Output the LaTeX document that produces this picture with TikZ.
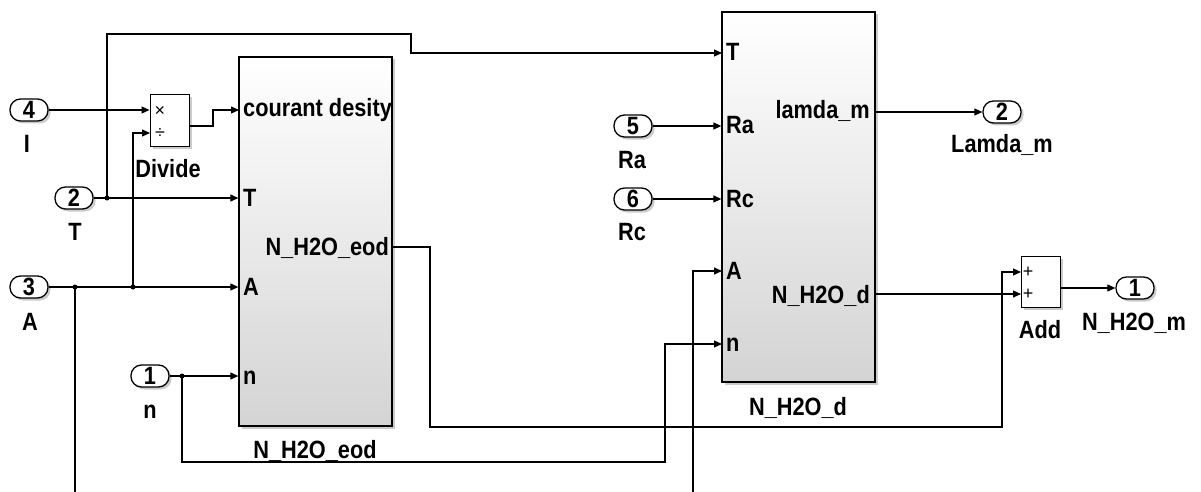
\documentclass[tikz,border=0pt]{standalone}
\usepackage{fontspec}
\setmainfont{Liberation Sans}
\newfontfamily\lblfont{Liberation Sans}[FakeStretch=0.87]
\usetikzlibrary{arrows.meta,shadows}
\begin{document}
\begin{tikzpicture}[x=1pt,y=-1pt,
  wire/.style={line width=1.1pt},
  arr/.style={wire,-{Triangle[length=8pt,width=7pt]}},
  shad/.style={drop shadow={shadow xshift=2.5pt,shadow yshift=-2.5pt,fill=black!45,opacity=.45}},
  port/.style={draw,line width=1.3pt,rounded corners=10.5pt,minimum width=38pt,minimum height=22pt,
    inner sep=0pt,fill=white,shad,font=\lblfont\bfseries\fontsize{25}{25}\selectfont},
  blk/.style={draw,line width=1.3pt,top color=white,bottom color=black!17,shad,minimum width=153pt},
  sblk/.style={draw,line width=1pt,fill=white,shad,minimum width=39pt,minimum height=51pt},
  lbl/.style={font=\lblfont\bfseries\fontsize{25}{27}\selectfont,inner sep=0pt},
  sym/.style={font=\fontsize{18}{18}\selectfont,inner sep=0pt},
  jdot/.style={circle,fill,inner sep=0pt,minimum size=5pt}]
\useasboundingbox (0,0) rectangle (1201,492);

% blocks
\node[blk,minimum height=369pt] (eod) at (315.5,241.5) {};
\node[blk,minimum height=370pt] (nd) at (798.5,197) {};
\node[sblk] (div) at (169.5,120.5) {};
\node[sblk] (add) at (1040.5,281.5) {};

% ports
\node[port] (p4) at (29,110) {4};
\node[port] (p2) at (74,198) {2};
\node[port] (p3) at (29,287) {3};
\node[port] (p1) at (150,376) {1};
\node[port] (p5) at (633,126) {5};
\node[port] (p6) at (633,199) {6};
\node[port] (o2) at (1002,112) {2};
\node[port] (o1) at (1135,288) {1};

% port labels
\node[lbl,anchor=base] (lI) at (27,152) {I};
\node[lbl,anchor=base] (lT) at (75,240) {T};
\node[lbl,anchor=base] (lA) at (30,330) {A};
\node[lbl,anchor=base] (ln) at (150,418) {n};
\node[lbl,anchor=base] (lRa) at (632,168) {Ra};
\node[lbl,anchor=base] (lRc) at (632,240) {Rc};
\node[lbl,anchor=base] (lLm) at (1002,152) {Lamda\_m};
\node[lbl,anchor=base] (lNm) at (1134,330) {N\_H2O\_m};
\node[lbl,anchor=base] (lDiv) at (168,177) {Divide};
\node[lbl,anchor=base] (lAdd) at (1040,338) {Add};
\node[lbl,anchor=base] (leod) at (315,458) {N\_H2O\_eod};
\node[lbl,anchor=base] (ld) at (798,415) {N\_H2O\_d};

% block inner labels
\node[lbl,anchor=base west] (eCD) at (243,117) {courant desity};
\node[lbl,anchor=base west] (eT) at (243,206) {T};
\node[lbl,anchor=base west] (eA) at (243,295) {A};
\node[lbl,anchor=base west] (en) at (243,384) {n};
\node[lbl,anchor=base east] (eOut) at (389,255) {N\_H2O\_eod};
\node[lbl,anchor=base west] (dT) at (726,61) {T};
\node[lbl,anchor=base west] (dRa) at (726,133) {Ra};
\node[lbl,anchor=base west] (dRc) at (726,207) {Rc};
\node[lbl,anchor=base west] (dA) at (726,279) {A};
\node[lbl,anchor=base west] (dn) at (726,351) {n};
\node[lbl,anchor=base east] (dLm) at (870,118) {lamda\_m};
\node[lbl,anchor=base east] (dOut) at (870,303) {N\_H2O\_d};

% symbols
\node[sym] (sx) at (160,111) {×};
\node[sym] (sd) at (160,133) {÷};
\node[sym] (sp1) at (1028,272) {+};
\node[sym] (sp2) at (1028,294) {+};

% junctions
\coordinate (jT) at (107,198);
\coordinate (jA1) at (75,287);
\coordinate (jA2) at (133,287);
\coordinate (jn) at (182,376);
\coordinate (bA) at (75,492);
\coordinate (bA2) at (693,492);

% wires
\draw[arr] (p4.east) -- (p4.east -| div.west);
\draw[arr] (189,126) -- (213,126) -- (213,110) -- (239,110);
\draw[arr] (p2.east) -- (p2.east -| eod.west);
\draw[arr] (jT) -- (107,34) -- (411,34) -- (411,53) -- (722,53);
\draw[arr] (p3.east) -- (p3.east -| eod.west);
\draw[wire] (jA1) -- (bA);
\draw[arr] (jA2) -- (133,133) -- (150,133);
\draw[arr] (p1.east) -- (p1.east -| eod.west);
\draw[arr] (jn) -- (182,462) -- (665,462) -- (665,344) -- (722,344);
\draw[arr] (392,247) -- (430,247) -- (430,427) -- (1002,427) -- (1002,272) -- (1021,272);
\draw[arr] (bA2) -- (693,271) -- (722,271);
\draw[arr] (p5.east) -- (p5.east -| nd.west);
\draw[arr] (p6.east) -- (p6.east -| nd.west);
\draw[arr] (875,112) -- (o2.west);
\draw[arr] (875,294) -- (1021,294);
\draw[arr] (1060,288) -- (o1.west);

\node[jdot] at (jT) {};
\node[jdot] at (jA1) {};
\node[jdot] at (jA2) {};
\node[jdot] at (jn) {};
\end{tikzpicture}
\end{document}
